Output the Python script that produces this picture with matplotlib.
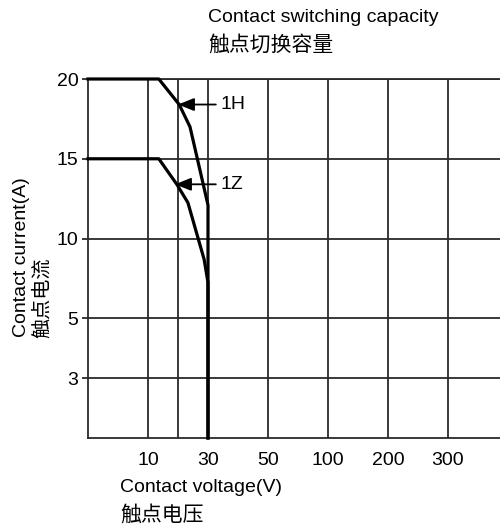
import numpy as np
import matplotlib
matplotlib.use('Agg')
import matplotlib.pyplot as plt

plt.rcParams['font.family'] = ['Liberation Sans', 'Noto Sans CJK SC', 'DejaVu Sans']

# 축 눈금 (비선형 배치)
x_ticks = [10, 20, 30, 50, 100, 200, 300]
x_tick_labels = ['10', '', '30', '50', '100', '200', '300']
y_ticks = [3, 5, 10, 15, 20]
y_tick_labels = ['3', '5', '10', '15', '20']

# 눈금 값 -> 화면 위치 매핑
x_vals = [0, 10, 20, 30, 50, 100, 200, 300, 400]
x_pos = [0, 1, 1.5, 2, 3, 4, 5, 6, 7]
y_vals = [1, 3, 5, 10, 15, 20]
y_pos = [0, 0.75, 1.5, 2.5, 3.5, 4.5]

# 곡선 데이터 (전압 V, 전류 A)
v_1h = [0, 13.6, 20.4, 24, 30, 30]
a_1h = [20, 20, 18.4, 17, 12.1, 1]
v_1z = [0, 13.6, 19.6, 23.3, 28.7, 30, 30]
a_1z = [15, 15, 13.4, 12.25, 8.7, 7.25, 1]


def fx(v):
    return np.interp(v, x_vals, x_pos)

def fx_inv(p):
    return np.interp(p, x_pos, x_vals)

def fy(v):
    return np.interp(v, y_vals, y_pos)

def fy_inv(p):
    return np.interp(p, y_pos, y_vals)


fig = plt.figure(figsize=(5, 5.3), dpi=100)
W, H = 500, 530
ax = fig.add_axes([88 / W, (H - 438) / H, 420 / W, (438 - 79) / H])
ax.set_xscale('function', functions=(fx, fx_inv))
ax.set_yscale('function', functions=(fy, fy_inv))
ax.set_xlim(0, 400)
ax.set_ylim(1, 20)

grid_c = '#2a2a2a'
ax.set_xticks(x_ticks)
ax.set_xticklabels(x_tick_labels)
ax.set_yticks(y_ticks)
ax.set_yticklabels(y_tick_labels)
ax.minorticks_off()
ax.grid(True, color=grid_c, lw=1.3)
ax.tick_params(axis='x', length=0, pad=10, labelsize=14)
ax.tick_params(axis='y', length=4, width=1.3, color=grid_c, pad=3, labelsize=14)
for s in ax.spines.values():
    s.set_color(grid_c)
    s.set_linewidth(1.3)

ax.plot(v_1h, a_1h, color='black', lw=2.3, clip_on=False, zorder=3)
ax.plot(v_1z, a_1z, color='black', lw=2.3, clip_on=False, zorder=3)

arrow = dict(arrowstyle='-|>,head_length=0.7,head_width=0.28', color='black', lw=1.3,
             shrinkA=1, shrinkB=0)
ax.annotate('1H', xy=(20, 18.4), xytext=(34, 18.4), ha='left', va='center',
            fontsize=14, arrowprops=arrow)
ax.annotate('1Z', xy=(19, 13.4), xytext=(34, 13.4), ha='left', va='center',
            fontsize=14, arrowprops=arrow)

# 제목 및 축 레이블
fig.text(208 / W, 1 - 18 / H, 'Contact switching capacity', ha='left', va='center', fontsize=14)
fig.text(208 / W, 1 - 45 / H, '触点切换容量', ha='left', va='center', fontsize=15)
fig.text(120 / W, 1 - 488 / H, 'Contact voltage(V)', ha='left', va='center', fontsize=14)
fig.text(120 / W, 1 - 515 / H, '触点电压', ha='left', va='center', fontsize=15)
fig.text(22 / W, 1 - 337 / H, 'Contact current(A)', ha='center', va='bottom',
         rotation=90, fontsize=14)
fig.text(43 / W, 1 - 338 / H, '触点电流', ha='center', va='bottom',
         rotation=90, fontsize=14.5)

plt.savefig('out.png', dpi=100)
plt.close()
